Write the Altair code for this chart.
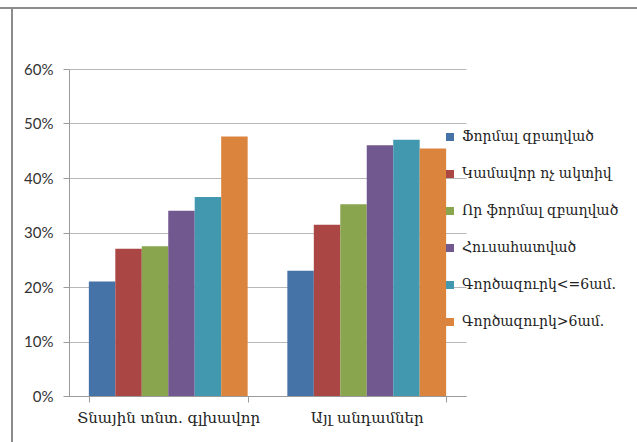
import altair as alt
import pandas as pd

# Household groups on the x axis
groups = ["Տնային տնտ. գլխավոր", "Այլ անդամներ"]

# Employment status series (legend order)
statuses = [
    "Ֆորմալ զբաղված",
    "Կամավոր ոչ ակտիվ",
    "Որ ֆորմալ զբաղված",
    "Հուսահատված",
    "Գործազուրկ<=6ամ.",
    "Գործազուրկ>6ամ.",
]
colors = ["#4572A7", "#AA4643", "#89A54E", "#71588F", "#4198AF", "#DB843D"]

# Shares per status for each group
head_values = [0.21, 0.27, 0.275, 0.34, 0.365, 0.476]
other_values = [0.23, 0.314, 0.352, 0.46, 0.47, 0.454]

rows = []
for g, vals in zip(groups, [head_values, other_values]):
    for s, v in zip(statuses, vals):
        rows.append({"group": g, "status": s, "share": v})
df = pd.DataFrame(rows)

W, H = 397, 327
PAD_L, PAD_T = 69, 69

bars = alt.Chart(df).mark_bar().encode(
    x=alt.X(
        "group:N",
        sort=groups,
        title=None,
        scale=alt.Scale(paddingInner=0.2, paddingOuter=0.1),
        axis=alt.Axis(
            labelAngle=0,
            labelFont="DejaVu Serif",
            labelFontSize=15,
            labelColor="#222222",
            labelPadding=8,
            labelLimit=400,
            tickBand="extent",
            tickSize=6,
            tickColor="#9a9a9a",
            domainColor="#9a9a9a",
            grid=False,
        ),
    ),
    xOffset=alt.XOffset("status:N", sort=statuses, scale=alt.Scale(paddingInner=0, paddingOuter=0)),
    y=alt.Y(
        "share:Q",
        title=None,
        scale=alt.Scale(domain=[0, 0.6], nice=False),
        axis=alt.Axis(
            format=".0%",
            values=[0, 0.1, 0.2, 0.3, 0.4, 0.5, 0.6],
            labelFont="Lato",
            labelFontSize=15,
            labelColor="#333333",
            labelPadding=10,
            tickSize=6,
            tickColor="#9a9a9a",
            domainColor="#9a9a9a",
            gridColor="#b8b8b8",
        ),
    ),
    color=alt.Color(
        "status:N",
        sort=statuses,
        scale=alt.Scale(domain=statuses, range=colors),
        legend=alt.Legend(
            title=None,
            orient="none",
            legendX=374,
            legendY=61,
            symbolType="square",
            symbolSize=64,
            symbolStrokeWidth=0,
            labelFont="DejaVu Serif",
            labelFontSize=14,
            labelColor="#222222",
            labelOffset=5,
            rowPadding=23,
            padding=0,
        ),
    ),
)

# Outer frame lines (top and left edges)
frame_top = alt.Chart(df).mark_rule(color="#8c8c8c", strokeWidth=1.5).encode(
    x=alt.value(-PAD_L), x2=alt.value(637), y=alt.value(8 - PAD_T)
)
frame_left = alt.Chart(df).mark_rule(color="#8c8c8c", strokeWidth=1.5).encode(
    x=alt.value(12 - PAD_L), y=alt.value(8 - PAD_T), y2=alt.value(442)
)

chart = alt.layer(bars, frame_top, frame_left).properties(
    width=W,
    height=H,
    background="white",
    autosize=alt.AutoSizeParams(type="none"),
    padding={"left": PAD_L, "top": PAD_T, "right": 637 - PAD_L - W, "bottom": 442 - PAD_T - H},
).configure_view(strokeWidth=0, stroke="transparent")

chart.save("out.html", embed_options={"renderer": "svg", "actions": False})
